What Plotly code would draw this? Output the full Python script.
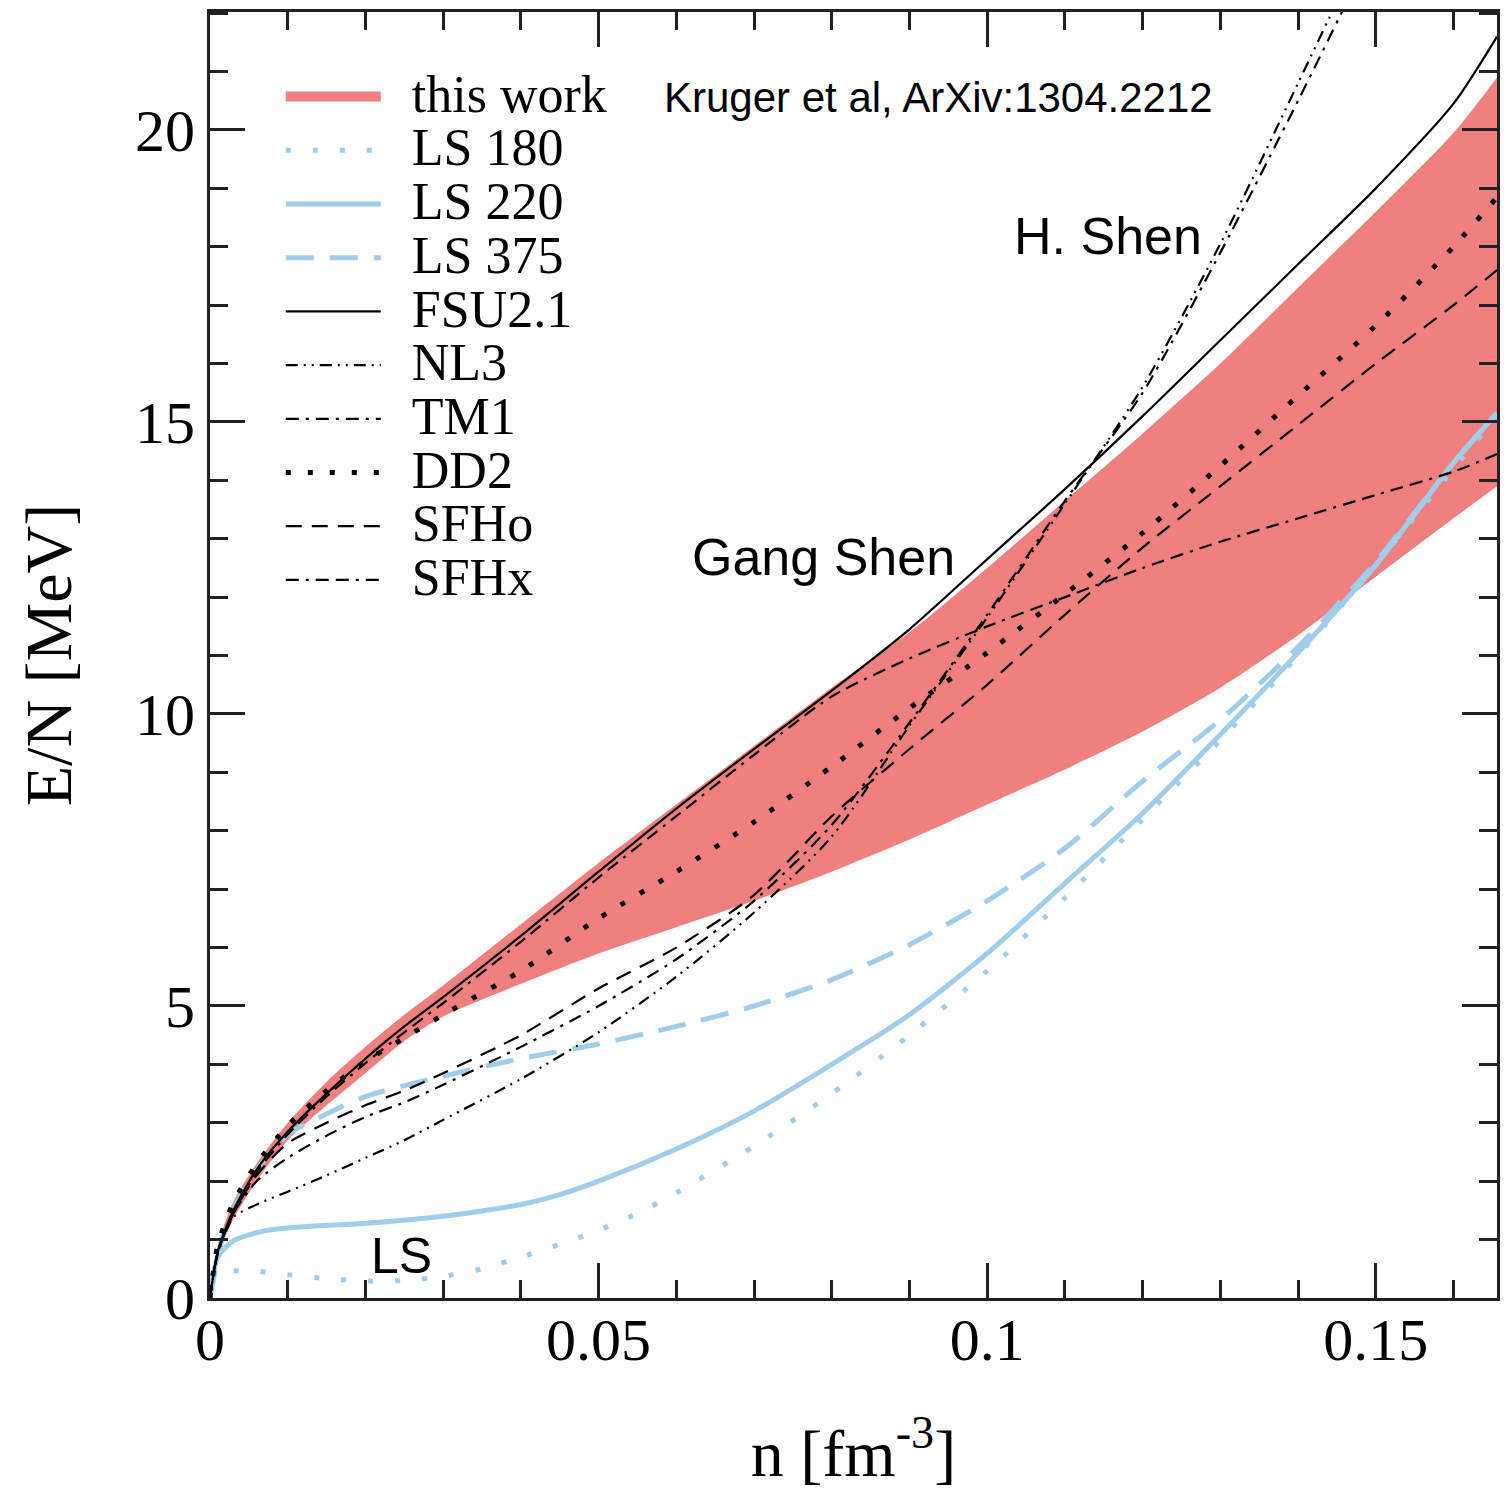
import plotly.graph_objects as go

# ---------------- data ----------------
n_grid = [0, 0.001, 0.003, 0.006, 0.01, 0.015, 0.02, 0.025, 0.03, 0.04, 0.05,
          0.06, 0.07, 0.08, 0.09, 0.1, 0.11, 0.12, 0.13, 0.14, 0.15, 0.16, 0.1656]

band_upper = [0, 0.9, 1.65, 2.3, 3.0, 3.7, 4.3, 4.85, 5.35, 6.4, 7.45,
              8.45, 9.45, 10.45, 11.4, 12.5, 13.65, 14.8, 16.0, 17.3, 18.6, 19.95, 20.9]
band_lower = [0, 0.7, 1.35, 2.0, 2.7, 3.3, 3.85, 4.4, 4.82, 5.38, 5.9,
              6.35, 6.8, 7.3, 7.85, 8.45, 9.05, 9.7, 10.45, 11.35, 12.35, 13.35, 13.9]

fsu21 = [0, 0.8, 1.5, 2.2, 2.85, 3.5, 4.1, 4.65, 5.15, 6.2, 7.3,
         8.38, 9.4, 10.4, 11.45, 12.65, 13.85, 15.1, 16.4, 17.7, 19.0, 20.45, 21.6]
sfhx = [0, 0.78, 1.45, 2.15, 2.8, 3.45, 4.02, 4.55, 5.05, 6.1, 7.2,
        8.25, 9.3, 10.3, 10.95, 11.5, 12.0, 12.5, 12.95, 13.35, 13.75, 14.15, 14.45]
dd2 = [0, 0.9, 1.63, 2.3, 2.95, 3.55, 4.05, 4.45, 4.85, 5.6, 6.5,
       7.3, 8.15, 9.1, 10.1, 11.05, 12.05, 13.1, 14.25, 15.45, 16.65, 18.0, 18.85]
sfho = [0, 0.78, 1.45, 2.1, 2.65, 3.0, 3.3, 3.55, 3.85, 4.5, 5.3,
        6.0, 6.9, 8.25, 9.4, 10.5, 11.7, 12.85, 13.9, 14.95, 16.0, 17.0, 17.6]

n_hshen = [0, 0.001, 0.003, 0.006, 0.01, 0.015, 0.02, 0.025, 0.03, 0.04, 0.05,
           0.06, 0.07, 0.08, 0.09, 0.1, 0.11, 0.12, 0.13, 0.14, 0.15]
tm1 = [0, 0.78, 1.45, 2.0, 2.4, 2.78, 3.1, 3.35, 3.65, 4.3, 5.0,
       5.8, 6.8, 8.1, 9.85, 11.7, 13.65, 15.5, 17.9, 20.5, 23.2]
nl3 = [0, 0.75, 1.38, 1.6, 1.82, 2.1, 2.4, 2.7, 3.05, 3.75, 4.55,
       5.5, 6.6, 7.9, 9.8, 11.65, 13.6, 15.6, 18.05, 20.8, 23.6]

n_ls180 = [0, 0.001, 0.005, 0.01, 0.015, 0.02, 0.025, 0.03, 0.035, 0.04, 0.045, 0.05,
           0.055, 0.06, 0.07, 0.08, 0.09, 0.1, 0.11, 0.12, 0.13, 0.14, 0.15, 0.16, 0.1656]
ls180 = [0.3, 0.43, 0.47, 0.4, 0.33, 0.29, 0.3, 0.37, 0.5, 0.7, 0.92, 1.16,
         1.45, 1.8, 2.6, 3.5, 4.5, 5.6, 6.85, 8.2, 9.55, 11.0, 12.55, 14.2, 15.1]

n_ls220 = [0, 0.001, 0.003, 0.007, 0.012, 0.02, 0.03, 0.04, 0.045, 0.05, 0.06, 0.07,
           0.08, 0.09, 0.1, 0.11, 0.12, 0.13, 0.14, 0.15, 0.16, 0.1656]
ls220 = [0, 0.7, 0.98, 1.15, 1.22, 1.28, 1.4, 1.6, 1.77, 2.0, 2.55, 3.2,
         4.0, 4.85, 5.9, 7.1, 8.3, 9.65, 11.05, 12.55, 14.3, 15.15]

n_ls375 = [0, 0.002, 0.005, 0.01, 0.015, 0.02, 0.03, 0.04, 0.05, 0.06, 0.07,
           0.08, 0.09, 0.1, 0.11, 0.12, 0.13, 0.14, 0.15, 0.16, 0.1656]
ls375 = [0, 1.2, 2.0, 2.8, 3.15, 3.45, 3.8, 4.1, 4.35, 4.65, 5.0,
         5.45, 6.05, 6.8, 7.7, 8.85, 9.9, 11.15, 12.6, 14.3, 15.15]

x_tickvals = [0, 0.05, 0.1, 0.15]
x_ticktext = ["0", "0.05", "0.1", "0.15"]
y_tickvals = [0, 5, 10, 15, 20]
y_ticktext = ["0", "5", "10", "15", "20"]

# ---------------- styling ----------------
BLUE = "#A0CDEB"
RED = "#F08080"
SERIF = "Liberation Serif, Times New Roman, serif"
SANS = "Liberation Sans, Arial, sans-serif"
SHAPE = "spline"
SM = 0.7


def lg(name):
    # legend label rendered larger than the legend's row-height font
    return '<span style="font-size:52px">&nbsp;&nbsp;' + name + '</span>'


fig = go.Figure()

# band "this work"
fig.add_trace(go.Scatter(x=n_grid, y=band_lower, mode="lines",
                         line=dict(width=0, color=RED, shape=SHAPE, smoothing=SM),
                         showlegend=False, hoverinfo="skip"))
fig.add_trace(go.Scatter(x=n_grid, y=band_upper, mode="lines", name="this work",
                         fill="tonexty", fillcolor=RED, showlegend=False,
                         line=dict(width=0, color=RED, shape=SHAPE, smoothing=SM)))
# legend entry for the band (no data drawn)
fig.add_trace(go.Scatter(x=[None], y=[None], mode="lines", name=lg("this work"),
                         line=dict(width=30, color=RED)))

fig.add_trace(go.Scatter(x=n_ls180, y=ls180, mode="lines", name=lg("LS 180"),
                         line=dict(color=BLUE, width=5, dash="5px,22px", shape=SHAPE, smoothing=SM)))
fig.add_trace(go.Scatter(x=n_ls220, y=ls220, mode="lines", name=lg("LS 220"),
                         line=dict(color=BLUE, width=5, shape=SHAPE, smoothing=SM)))
fig.add_trace(go.Scatter(x=n_ls375, y=ls375, mode="lines", name=lg("LS 375"),
                         line=dict(color=BLUE, width=5, dash="28px,16px", shape=SHAPE, smoothing=SM)))
fig.add_trace(go.Scatter(x=n_grid, y=fsu21, mode="lines", name=lg("FSU2.1"),
                         line=dict(color="black", width=2.2, shape=SHAPE, smoothing=SM)))
fig.add_trace(go.Scatter(x=n_hshen, y=nl3, mode="lines", name=lg("NL3"),
                         line=dict(color="black", width=2.2, dash="12px,6px,2px,6px,2px,6px",
                                   shape=SHAPE, smoothing=SM)))
fig.add_trace(go.Scatter(x=n_hshen, y=tm1, mode="lines", name=lg("TM1"),
                         line=dict(color="black", width=2.2, dash="13px,7px,3px,7px",
                                   shape=SHAPE, smoothing=SM)))
fig.add_trace(go.Scatter(x=n_grid, y=dd2, mode="lines", name=lg("DD2"),
                         line=dict(color="black", width=5, dash="5px,17px", shape=SHAPE, smoothing=SM)))
fig.add_trace(go.Scatter(x=n_grid, y=sfho, mode="lines", name=lg("SFHo"),
                         line=dict(color="black", width=2.2, dash="16px,10px", shape=SHAPE, smoothing=SM)))
fig.add_trace(go.Scatter(x=n_grid, y=sfhx, mode="lines", name=lg("SFHx"),
                         line=dict(color="black", width=2.2, dash="13px,7px,3px,7px,13px,7px",
                                   shape=SHAPE, smoothing=SM)))

annotations = [
    dict(x=0.0937, y=20.56, text="Kruger et al, ArXiv:1304.2212", size=42),
    dict(x=0.1156, y=18.18, text="H. Shen", size=52),
    dict(x=0.0789, y=12.69, text="Gang Shen", size=52),
    dict(x=0.0246, y=0.72, text="LS", size=50),
]
for a in annotations:
    fig.add_annotation(x=a["x"], y=a["y"], xref="x", yref="y", text=a["text"],
                       showarrow=False, xanchor="center", yanchor="middle",
                       font=dict(family=SANS, size=a["size"], color="black"))

axis_common = dict(
    showgrid=False, zeroline=False, showline=True, linecolor="#222222", linewidth=3,
    mirror="ticks", ticks="inside", ticklen=35, tickwidth=2.5, tickcolor="#222222",
    tickfont=dict(family=SERIF, size=60, color="black"),
)

fig.update_xaxes(
    range=[0, 0.1656], tickvals=x_tickvals, ticktext=x_ticktext, ticklabelstandoff=-13,
    minor=dict(dtick=0.01, tick0=0, ticks="inside", ticklen=18, tickwidth=2.5, tickcolor="#222222"),
    title=dict(text="n [fm<sup>-3</sup>]", font=dict(family=SERIF, size=66, color="black"), standoff=58),
    **axis_common)
fig.update_yaxes(
    range=[0, 22.02], tickvals=y_tickvals, ticktext=y_ticktext,
    minor=dict(dtick=1, tick0=0, ticks="inside", ticklen=18, tickwidth=2.5, tickcolor="#222222"),
    title=dict(text="E/N [MeV]", font=dict(family=SERIF, size=66, color="black"), standoff=42),
    **axis_common)

fig.update_layout(
    width=1507, height=1490,
    margin=dict(l=210, r=10, t=12, b=192, autoexpand=False),
    paper_bgcolor="white", plot_bgcolor="white",
    showlegend=True,
    legend=dict(x=0.055, y=0.959, xanchor="left", yanchor="top",
                bgcolor="rgba(0,0,0,0)", borderwidth=0,
                font=dict(family=SERIF, size=39, color="black"),
                itemwidth=95, tracegroupgap=0, traceorder="normal"),
)

fig.write_html("out.html")
